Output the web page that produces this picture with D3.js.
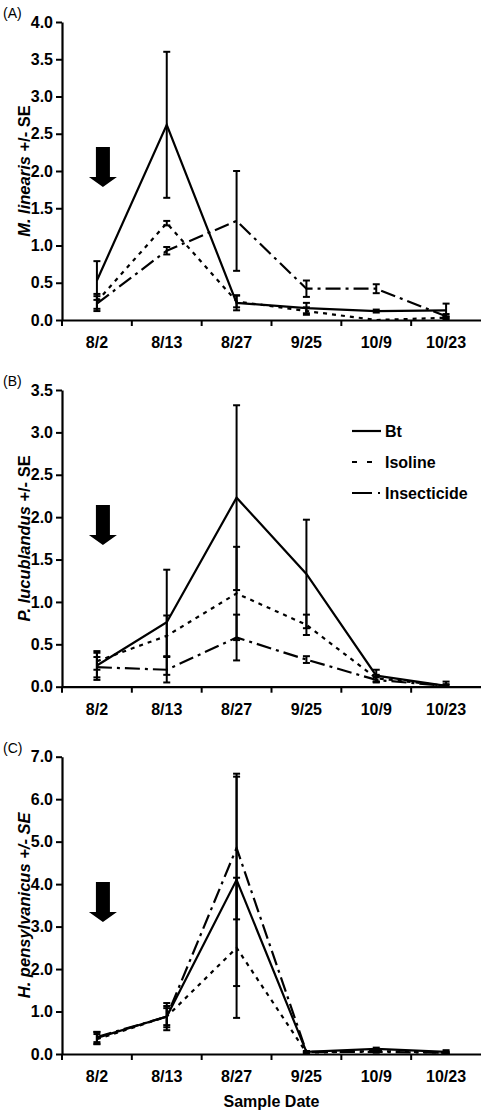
<!DOCTYPE html>
<html>
<head>
<meta charset="utf-8">
<script src="https://cdn.jsdelivr.net/npm/d3@7"></script>
<style>
  body { margin: 0; background: #fff; }
  text { font-family: "Liberation Sans", Arial, sans-serif; }
</style>
</head>
<body>
<div id="chart"></div>
<script>
// sample dates (x categories)
const dates = ["8/2", "8/13", "8/27", "9/25", "10/9", "10/23"];
const treatments = ["Bt", "Isoline", "Insecticide"];

// (A) M. linearis
const aBt = [0.53, 2.62, 0.23, 0.16, 0.12, 0.13];
const aBtSE = [0.26, 0.98, 0.10, 0.07, 0.02, 0.09];
const aIso = [0.25, 1.30, 0.25, 0.12, 0.00, 0.03];
const aIsoSE = [0.10, 0.03, 0.08, 0.05, 0.00, 0.02];
const aIns = [0.22, 0.93, 1.33, 0.42, 0.42, 0.05];
const aInsSE = [0.10, 0.05, 0.67, 0.11, 0.06, 0.03];

// (B) P. lucublandus
const bBt = [0.25, 0.76, 2.23, 1.33, 0.13, 0.01];
const bBtSE = [0.17, 0.62, 1.09, 0.64, 0.07, 0.05];
const bIso = [0.30, 0.60, 1.10, 0.73, 0.10, 0.01];
const bIsoSE = [0.10, 0.24, 0.55, 0.12, 0.04, 0.02];
const bIns = [0.23, 0.20, 0.58, 0.32, 0.08, 0.01];
const bInsSE = [0.12, 0.15, 0.27, 0.04, 0.03, 0.01];

// (C) H. pensylvanicus
const cBt = [0.38, 0.88, 4.10, 0.05, 0.12, 0.05];
const cBtSE = [0.14, 0.32, 2.50, 0.02, 0.03, 0.04];
const cIso = [0.35, 0.88, 2.50, 0.03, 0.07, 0.03];
const cIsoSE = [0.12, 0.20, 1.65, 0.02, 0.02, 0.02];
const cIns = [0.40, 0.88, 4.85, 0.05, 0.05, 0.03];
const cInsSE = [0.12, 0.25, 1.68, 0.02, 0.02, 0.02];

// y ticks per panel
const aTicks = [0, 0.5, 1, 1.5, 2, 2.5, 3, 3.5, 4];
const bTicks = [0, 0.5, 1, 1.5, 2, 2.5, 3, 3.5];
const cTicks = [0, 1, 2, 3, 4, 5, 6, 7];

const dashes = {Bt: null, Isoline: "4,5", Insecticide: "15,5,3,5"};
const legendDashes = {Bt: null, Isoline: "5,10", Insecticide: "20,6,2,6"};

const panels = [
    {tag: "(A)", species: "M. linearis", rest: " +/- SE", restItalic: false,
     top: 22, bottom: 320, ticks: aTicks, arrowTop: 147,
     series: [[aBt, aBtSE], [aIso, aIsoSE], [aIns, aInsSE]]},
    {tag: "(B)", species: "P. lucublandus", rest: " +/- SE", restItalic: false,
     top: 390, bottom: 686.7, ticks: bTicks, arrowTop: 505, legend: true,
     series: [[bBt, bBtSE], [bIso, bIsoSE], [bIns, bInsSE]]},
    {tag: "(C)", species: "H. pensylvanicus", rest: " +/- SE", restItalic: true,
     top: 756.7, bottom: 1054, ticks: cTicks, arrowTop: 882, xLabel: "Sample Date",
     series: [[cBt, cBtSE], [cIso, cIsoSE], [cIns, cInsSE]]}
];

const width = 481, height = 1110;
const left = 62, right = 481;

const svg = d3.select("#chart").append("svg")
    .attr("width", width)
    .attr("height", height);

const x = d3.scaleBand().domain(dates).range([left, right]);

panels.forEach(p => {
    const g = svg.append("g");
    const ticks = p.ticks;
    const y = d3.scaleLinear().domain([0, ticks[ticks.length - 1]]).range([p.bottom, p.top]);

    // y axis
    const yAxis = g.append("g")
        .attr("transform", "translate(" + left + ",0)")
        .call(d3.axisLeft(y).tickValues(ticks).tickFormat(d3.format(".1f"))
            .tickSize(6).tickSizeOuter(0).tickPadding(3));
    yAxis.selectAll("text")
        .style("font-size", "16px").style("font-weight", "bold")
        .attr("fill", "#000");

    // x axis: labels centered in bands, ticks at band edges
    const xAxis = g.append("g")
        .attr("transform", "translate(0," + p.bottom + ")")
        .call(d3.axisBottom(x).tickSize(0).tickSizeOuter(0).tickPadding(17));
    xAxis.selectAll("text")
        .style("font-size", "16px").style("font-weight", "bold")
        .attr("fill", "#000");
    xAxis.selectAll(".edge")
        .data(dates)
        .enter().append("line")
        .attr("x1", d => x(d)).attr("x2", d => x(d))
        .attr("y1", 0).attr("y2", 6)
        .attr("stroke", "#000").attr("stroke-width", 2);

    g.selectAll(".domain").attr("stroke", "#000").attr("stroke-width", 2.2);
    g.selectAll(".tick line").attr("stroke", "#000").attr("stroke-width", 2);

    // axis title
    const yl = g.append("text")
        .attr("transform", "translate(30," + ((p.top + p.bottom) / 2) + ") rotate(-90)")
        .attr("text-anchor", "middle")
        .style("font-size", "16.5px").style("font-weight", "bold");
    yl.append("tspan").style("font-style", "italic").text(p.species);
    yl.append("tspan").style("font-style", p.restItalic ? "italic" : "normal").text(p.rest);

    // panel tag
    g.append("text")
        .attr("x", 3).attr("y", p.top - 4)
        .style("font-size", "14px")
        .text(p.tag);

    const cx = d => x(d) + x.bandwidth() / 2;

    // series
    p.series.forEach((s, i) => {
        const vals = s[0], se = s[1];
        const pts = dates.map((d, j) => ({d: d, v: vals[j], e: se[j]}));
        const name = treatments[i];

        g.append("path")
            .datum(pts)
            .attr("fill", "none")
            .attr("stroke", "#000")
            .attr("stroke-width", 2.2)
            .attr("stroke-dasharray", dashes[name])
            .attr("d", d3.line().x(q => cx(q.d)).y(q => y(q.v)));

        const eb = g.selectAll(".eb" + i)
            .data(pts.filter(q => q.e > 0))
            .enter().append("g");
        eb.append("line")
            .attr("x1", q => cx(q.d)).attr("x2", q => cx(q.d))
            .attr("y1", q => y(Math.max(0, q.v - q.e))).attr("y2", q => y(q.v + q.e))
            .attr("stroke", "#000").attr("stroke-width", 2);
        [1, -1].forEach(sgn => {
            eb.filter(q => sgn > 0 || q.v - q.e > 0).append("line")
                .attr("x1", q => cx(q.d) - 3.5).attr("x2", q => cx(q.d) + 3.5)
                .attr("y1", q => y(q.v + sgn * q.e)).attr("y2", q => y(q.v + sgn * q.e))
                .attr("stroke", "#000").attr("stroke-width", 2);
        });
    });

    // application arrow
    const ax = cx(dates[0]) + 6, at = p.arrowTop;
    g.append("path")
        .attr("d", "M" + (ax - 7) + "," + at + " H" + (ax + 7) + " V" + (at + 30) +
            " H" + (ax + 14) + " L" + ax + "," + (at + 40) + " L" + (ax - 14) + "," + (at + 30) +
            " H" + (ax - 7) + " Z")
        .attr("fill", "#000");

    if (p.xLabel) {
        g.append("text")
            .attr("x", (left + right) / 2).attr("y", p.bottom + 53)
            .attr("text-anchor", "middle")
            .style("font-size", "16px").style("font-weight", "bold")
            .text(p.xLabel);
    }

    if (p.legend) {
        const lg = g.selectAll(".lg")
            .data(treatments)
            .enter().append("g")
            .attr("transform", (d, i) => "translate(352," + (p.top + 41 + i * 31) + ")");
        lg.append("line")
            .attr("x1", 0).attr("x2", d => d === "Bt" ? 29 : 30)
            .attr("y1", 0).attr("y2", 0)
            .attr("stroke", "#000").attr("stroke-width", 2.2)
            .attr("stroke-dasharray", d => legendDashes[d]);
        lg.append("text")
            .attr("x", 33).attr("y", 5.5)
            .style("font-size", "16px").style("font-weight", "bold")
            .text(d => d);
    }
});
</script>
</body>
</html>
